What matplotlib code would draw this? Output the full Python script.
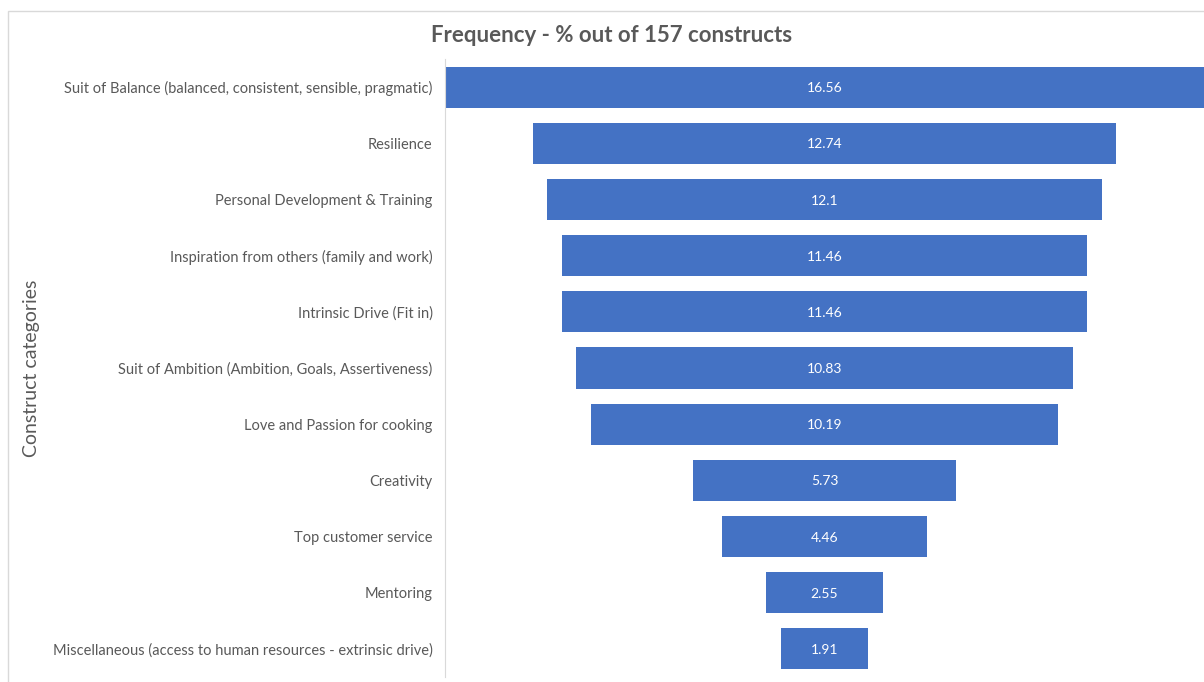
import matplotlib.pyplot as plt
from matplotlib.patches import Rectangle

categories = [
    "Suit of Balance (balanced, consistent, sensible, pragmatic)",
    "Resilience",
    "Personal Development & Training",
    "Inspiration from others (family and work)",
    "Intrinsic Drive (Fit in)",
    "Suit of Ambition (Ambition, Goals, Assertiveness)",
    "Love and Passion for cooking",
    "Creativity",
    "Top customer service",
    "Mentoring",
    "Miscellaneous (access to human resources - extrinsic drive)",
]
values = [16.56, 12.74, 12.1, 11.46, 11.46, 10.83, 10.19, 5.73, 4.46, 2.55, 1.91]
value_labels = ["16.56", "12.74", "12.1", "11.46", "11.46", "10.83", "10.19", "5.73", "4.46", "2.55", "1.91"]

plt.rcParams['font.family'] = ['Lato', 'DejaVu Sans']
grey = "#595959"

fig = plt.figure(figsize=(12.04, 6.82), dpi=100)
ax = fig.add_axes([445/1204, 5/682, 759/1204, 618/682])

# funnel: each bar centred on zero
ypos = list(range(len(values)))
lefts = [-v/2 for v in values]
ax.barh(ypos, values, left=lefts, height=0.73, color="#4472C4")
for y, v, lab in zip(ypos, values, value_labels):
    ax.text(0, y + 0.02, lab, ha="center", va="center", color="white", fontsize=10)

mx = max(values) / 2
ax.set_xlim(-mx, mx)
ax.set_ylim(len(values) - 0.5, -0.5)
ax.set_yticks(ypos)
ax.set_yticklabels(categories, fontsize=10.5, color=grey)
ax.tick_params(axis="y", length=0, pad=9)
ax.set_xticks([])
for s in ["top", "right", "bottom"]:
    ax.spines[s].set_visible(False)
ax.spines["left"].set_color("#D9D9D9")

fig.text(612/1204, 1 - 36/682, "Frequency - % out of 157 constructs",
         ha="center", va="center", fontsize=16, fontweight="bold", color=grey)
fig.text(32/1204, 1 - 368/682, "Construct categories", rotation=90,
         ha="center", va="center", fontsize=14, color=grey)

# chart border
fig.patches.append(Rectangle((8/1204, -0.01), 1.0, 1 - 11/682 + 0.01,
                             transform=fig.transFigure, fill=False,
                             edgecolor="#D9D9D9", linewidth=1))

fig.savefig("out.png", dpi=100)
